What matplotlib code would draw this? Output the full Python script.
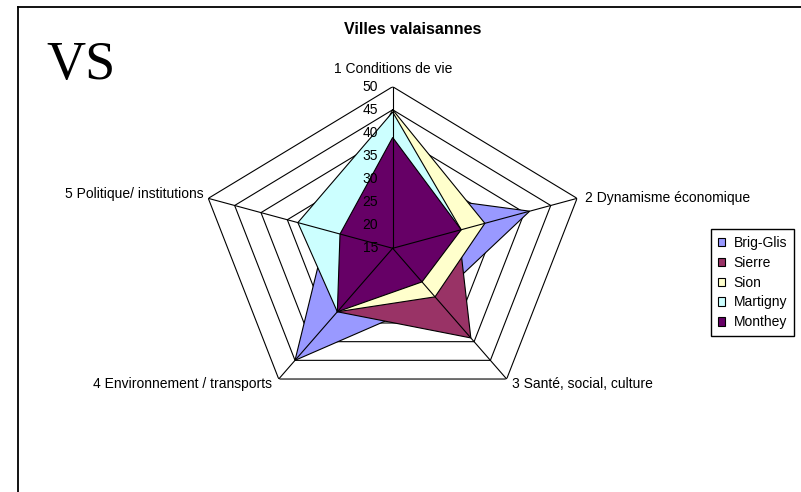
import numpy as np
import matplotlib
matplotlib.use('Agg')
import matplotlib.pyplot as plt
from matplotlib.patches import Patch
from matplotlib.lines import Line2D

plt.rcParams['font.family'] = ['Liberation Sans', 'DejaVu Sans']

# Data
categories = ['1 Conditions de vie', '2 Dynamisme économique', '3 Santé, social, culture',
              '4 Environnement / transports', '5 Politique/ institutions']
villes = ['Brig-Glis', 'Sierre', 'Sion', 'Martigny', 'Monthey']
brig_glis = [27, 41, 28.5, 45, 27.5]
sierre = [35, 27.5, 39, 32, 22]
sion = [45, 32.5, 28, 32, 27]
martigny = [44.5, 28, 22, 32, 33]
monthey = [39, 28, 24, 32, 25]
ticks = [15, 20, 25, 30, 35, 40, 45, 50]

series = [brig_glis, sierre, sion, martigny, monthey]
colors = ['#9999FF', '#993366', '#FFFFCC', '#CCFFFF', '#660066']

fig = plt.figure(figsize=(8.01, 4.92), dpi=100)

# chart frame (runs off right and bottom)
fig.add_artist(Line2D([18/801, 18/801], [-0.1, 1 - 7/492], color='black', lw=1.3,
                      transform=fig.transFigure))
fig.add_artist(Line2D([18/801, 1.1], [1 - 7/492, 1 - 7/492], color='black', lw=1.3,
                      transform=fig.transFigure))

ax = fig.add_axes([0.2482, 0.1669, 0.4841, 0.6569], projection='polar')
ax.set_aspect('auto')
ax.set_theta_offset(np.pi / 2)
ax.set_theta_direction(-1)
ax.set_ylim(ticks[0], ticks[-1])
ax.grid(False)
ax.spines['polar'].set_visible(False)
ax.set_xticks([])
ax.set_yticks([])
ax.patch.set_alpha(0)

n = len(categories)
angles = np.linspace(0, 2 * np.pi, n, endpoint=False)
closed = np.append(angles, angles[0])

# ring gridlines (behind data)
for r in ticks[1:]:
    ax.plot(closed, [r] * (n + 1), color='black', lw=0.8, zorder=1)

for vals, col in zip(series, colors):
    ax.fill(angles, vals, facecolor=col, edgecolor='black', lw=0.8, zorder=2)

# spokes on top
for a in angles:
    ax.plot([a, a], [ticks[0], ticks[-1]], color='black', lw=0.8, zorder=3)

for r in ticks:
    ax.annotate(str(r), xy=(0, r), xytext=(-10.5, 0), textcoords='offset points',
                ha='right', va='center', fontsize=10, zorder=4)

offsets = [(0, 12.5, 'center'), (6, 0.5, 'left'), (3.6, -3.6, 'left'),
           (-5, -3.3, 'right'), (-3.6, 2.9, 'right')]
for a, lab, (dx, dy, ha) in zip(angles, categories, offsets):
    ax.annotate(lab, xy=(a, ticks[-1]), xytext=(dx, dy), textcoords='offset points',
                ha=ha, va='center', fontsize=10, annotation_clip=False)

fig.text(413/801, 1 - 30/492, 'Villes valaisannes', ha='center', va='center',
         fontsize=11.5, fontweight='bold')
fig.text(46/801, 1 - 79/492, 'VS', family='Liberation Serif', fontsize=39,
         ha='left', va='baseline')

handles = [Patch(facecolor=c, edgecolor='black', lw=0.8) for c in colors]
fig.legend(handles, villes, loc='upper left', bbox_to_anchor=(710.7/801, 1 - 229/492),
           borderaxespad=0, fontsize=10, frameon=True, fancybox=False,
           edgecolor='black', handlelength=0.55, handleheight=0.55,
           handletextpad=0.6, labelspacing=0.42, borderpad=0.5, framealpha=1)

fig.savefig('out.png', dpi=100)
